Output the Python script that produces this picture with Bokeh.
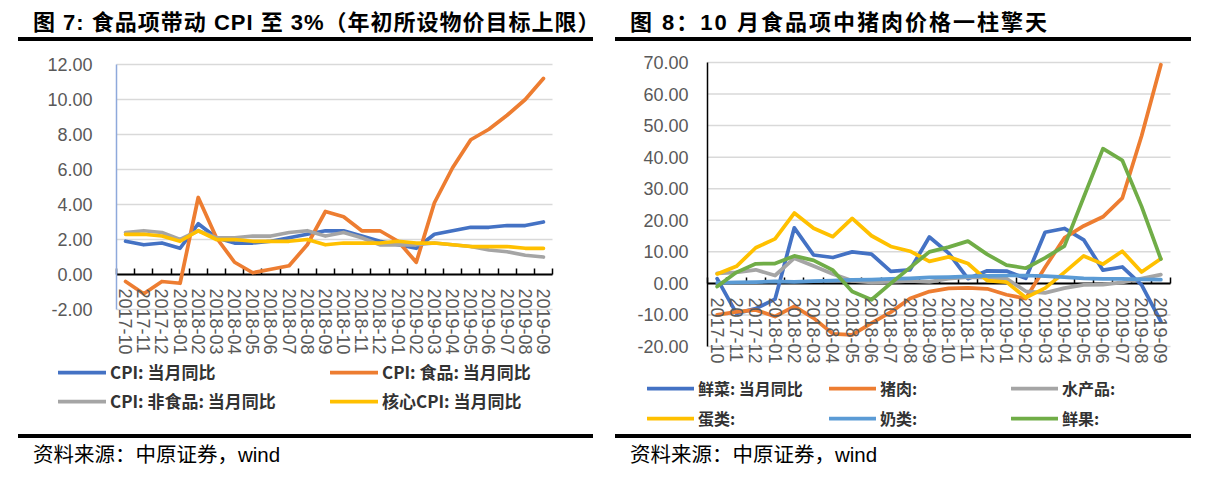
from bokeh.plotting import figure
from bokeh.models import (Legend, LegendItem, FixedTicker, NumeralTickFormatter,
                          Range1d, Div, LinearAxis)
from bokeh.layouts import row, column
from bokeh.embed import file_html
from bokeh.resources import INLINE

# ---------------- data ----------------
months = ["2017-10", "2017-11", "2017-12", "2018-01", "2018-02", "2018-03",
          "2018-04", "2018-05", "2018-06", "2018-07", "2018-08", "2018-09",
          "2018-10", "2018-11", "2018-12", "2019-01", "2019-02", "2019-03",
          "2019-04", "2019-05", "2019-06", "2019-07", "2019-08", "2019-09"]

# Figure 7: CPI
cpi_total = [1.9, 1.7, 1.8, 1.5, 2.9, 2.1, 1.8, 1.8, 1.9, 2.1, 2.3, 2.5,
             2.5, 2.2, 1.9, 1.7, 1.5, 2.3, 2.5, 2.7, 2.7, 2.8, 2.8, 3.0]
cpi_food = [-0.4, -1.1, -0.4, -0.5, 4.4, 2.1, 0.7, 0.1, 0.3, 0.5, 1.7, 3.6,
            3.3, 2.5, 2.5, 1.9, 0.7, 4.1, 6.1, 7.7, 8.3, 9.1, 10.0, 11.2]
cpi_nonfood = [2.4, 2.5, 2.4, 2.0, 2.5, 2.1, 2.1, 2.2, 2.2, 2.4, 2.5, 2.2,
               2.4, 2.1, 1.7, 1.7, 1.7, 1.8, 1.7, 1.6, 1.4, 1.3, 1.1, 1.0]
cpi_core = [2.3, 2.3, 2.2, 1.9, 2.5, 2.0, 2.0, 1.9, 1.9, 1.9, 2.0, 1.7,
            1.8, 1.8, 1.8, 1.9, 1.8, 1.8, 1.7, 1.6, 1.6, 1.6, 1.5, 1.5]
cpi_labels = ["CPI: 当月同比", "CPI: 食品: 当月同比", "CPI: 非食品: 当月同比", "核心CPI: 当月同比"]

# Figure 8: food items
veg = [1.5, -9.5, -8.0, -5.0, 17.6, 9.0, 8.2, 10.0, 9.3, 3.8, 4.3, 14.7,
       9.6, 1.5, 4.0, 3.9, 1.6, 16.2, 17.4, 13.8, 4.2, 5.2, -0.5, -12.0]
pork = [-10.0, -9.0, -8.4, -10.5, -7.3, -11.0, -16.0, -16.3, -12.6, -9.1, -4.8, -2.6,
        -1.6, -1.4, -1.7, -3.6, -4.8, 5.1, 14.4, 18.2, 21.1, 27.0, 46.7, 69.3]
aquatic = [3.2, 3.5, 4.3, 2.5, 8.0, 5.5, 3.0, 0.8, 0.3, 0.5, 0.8, 0.5,
           1.5, 2.0, 1.8, 1.5, -2.5, -3.0, -1.5, -0.5, -0.4, 0.3, 1.5, 2.8]
eggs = [3.0, 5.4, 11.3, 14.1, 22.3, 17.5, 14.8, 20.6, 15.1, 11.7, 10.2, 7.0,
        8.4, 6.3, 0.9, 0.4, -4.5, -1.5, 3.5, 8.7, 6.1, 10.2, 3.6, 7.8]
milk = [0.2, 0.3, 0.4, 0.6, 0.5, 0.7, 0.9, 1.1, 1.2, 1.4, 1.6, 1.9,
        2.0, 2.2, 2.4, 2.5, 2.5, 2.3, 2.0, 1.6, 1.4, 1.4, 1.3, 1.2]
fruit = [-1.0, 3.5, 6.2, 6.3, 8.7, 7.3, 4.2, -2.6, -5.2, 0.0, 5.0, 10.0,
         11.5, 13.4, 9.2, 5.8, 4.8, 8.1, 11.8, 27.3, 42.7, 39.0, 24.4, 7.7]
food_labels = ["鲜菜: 当月同比", "猪肉:", "水产品:", "蛋类:", "奶类:", "鲜果:"]

title7 = "图 7: 食品项带动 CPI 至 3%（年初所设物价目标上限）"
title8 = "图 8：10 月食品项中猪肉价格一柱擎天"
source_text = "资料来源：中原证券，wind"

C_BLUE, C_ORANGE, C_GRAY, C_YELLOW, C_LBLUE, C_GREEN = (
    "#4472C4", "#ED7D31", "#A5A5A5", "#FFC000", "#5B9BD5", "#70AD47")

FONT_TXT = "'Liberation Sans','Noto Sans CJK SC',sans-serif"
FIG_H = 392


def make_fig(series, colors, labels, ymin, ymax, ystep, fig_w,
             plot_l, plot_r, plot_t, plot_b, yaxis_color, ystandoff,
             legend_loc, ncols, glyph_w, label_w, spacing, legend_fs):
    """plot_l/r/t/b: pixel box (inside the figure) of the category/value area."""
    n = len(months)
    xs = list(range(n))
    cw = (plot_r - plot_l) / n                 # pixels per category
    vs = (plot_b - plot_t) / (ymax - ymin)     # pixels per value unit
    x_rng = Range1d(-0.5 - plot_l / cw, n - 0.5 + (fig_w - plot_r) / cw)
    y_rng = Range1d(ymin - (FIG_H - plot_b) / vs, ymax + plot_t / vs)

    p = figure(width=fig_w, height=FIG_H, x_range=x_rng, y_range=y_rng,
               output_backend="svg", toolbar_location=None,
               min_border=0, min_border_left=0, min_border_right=0,
               min_border_top=0, min_border_bottom=0)
    p.outline_line_color = None
    p.background_fill_color = "white"
    p.border_fill_color = "white"
    p.xgrid.visible = False
    p.ygrid.visible = False

    yticks = list(range(ymin, ymax + 1, ystep))
    # horizontal gridlines limited to the category area
    p.segment(x0=[-0.5] * len(yticks), x1=[n - 0.5] * len(yticks),
              y0=yticks, y1=yticks, line_color="#D9D9D9", line_width=1.5,
              level="underlay")

    ya = p.yaxis[0]
    ya.fixed_location = -0.5
    ya.bounds = (ymin, ymax)
    ya.ticker = FixedTicker(ticks=yticks)
    ya.formatter = NumeralTickFormatter(format="0.00")
    ya.axis_line_color = yaxis_color
    ya.axis_line_width = 1.5
    ya.major_tick_line_color = None
    ya.minor_tick_line_color = None
    ya.major_tick_out = 0
    ya.major_tick_in = 0
    ya.major_label_standoff = ystandoff
    ya.major_label_text_font = "Liberation Sans"
    ya.major_label_text_font_size = "18px"
    ya.major_label_text_color = "#595959"

    # zero line with tick marks between categories (beneath the series)
    zero = LinearAxis(fixed_location=0, bounds=(-0.5, n - 0.5),
                      ticker=FixedTicker(ticks=xs, minor_ticks=[i - 0.5 for i in range(n + 1)]),
                      major_label_text_color=None, major_tick_line_color=None,
                      major_tick_in=0, major_tick_out=0,
                      minor_tick_in=6, minor_tick_out=0,
                      minor_tick_line_color="black", minor_tick_line_width=1.5,
                      axis_line_color="black", axis_line_width=2, level="underlay")
    p.add_layout(zero, "below")

    # category labels under the zero line
    xa = p.xaxis[0]
    xa.fixed_location = 0
    xa.ticker = FixedTicker(ticks=xs)
    xa.major_label_overrides = {i: m for i, m in enumerate(months)}
    xa.major_label_orientation = "vertical"
    xa.axis_line_color = None
    xa.major_tick_line_color = None
    xa.minor_tick_line_color = None
    xa.major_tick_out = 0
    xa.major_tick_in = 0
    xa.major_label_standoff = 14
    xa.major_label_text_font = "Liberation Sans"
    xa.major_label_text_font_size = "18px"
    xa.major_label_text_color = "#595959"

    items = []
    for ys, c, lab in zip(series, colors, labels):
        r = p.line(xs, ys, line_color=c, line_width=3.75,
                   line_join="round", line_cap="round")
        items.append(LegendItem(label=lab, renderers=[r]))

    leg = Legend(items=items, location=legend_loc, orientation="horizontal",
                 ncols=ncols, glyph_width=glyph_w, glyph_height=20,
                 label_width=label_w, label_height=20, label_standoff=4,
                 spacing=spacing, padding=0, margin=0,
                 border_line_color=None, background_fill_alpha=0,
                 label_text_font="Noto Sans CJK SC", label_text_font_size=legend_fs,
                 label_text_font_style="bold", label_text_color="#333333")
    p.add_layout(leg)
    return p


def title_div(text, width, ml, lw, ls):
    html = (f'<div style="box-sizing:border-box;margin-left:{ml}px;width:{lw}px;'
            f'height:33px;line-height:29px;border-bottom:4px solid #000;'
            f'padding-left:15px;white-space:nowrap;color:#000;'
            f'font-family:{FONT_TXT};font-weight:bold;font-size:22px;'
            f'letter-spacing:{ls}px;">{text}</div>')
    return Div(text=html, width=width, height=34, margin=0)


def source_div(text, width, ml, lw):
    html = (f'<div style="box-sizing:border-box;margin-left:{ml}px;width:{lw}px;'
            f'height:34px;border-top:4px solid #000;padding-top:4px;'
            f'line-height:26px;padding-left:15px;white-space:nowrap;color:#000;'
            f'font-family:{FONT_TXT};font-size:20.5px;">{text}</div>')
    return Div(text=html, width=width, height=34, margin=0)


# left figure occupies page x 8..608, y 42..434
p7 = make_fig([cpi_total, cpi_food, cpi_nonfood, cpi_core],
              [C_BLUE, C_ORANGE, C_GRAY, C_YELLOW], cpi_labels,
              -2, 12, 2, 600, 108, 544, 22, 267, "#8EA9DB", 24,
              (50, 21), 2, 48, 216, 4, "17px")

# right figure occupies page x 608..1198, y 42..434
p8 = make_fig([veg, pork, aquatic, eggs, milk, fruit],
              [C_BLUE, C_ORANGE, C_GRAY, C_YELLOW, C_LBLUE, C_GREEN], food_labels,
              -20, 70, 10, 590, 99, 562, 20, 304, "black", 19,
              (39, 4), 3, 47, 125, 6, "16px")

left = column(title_div(title7, 600, 10, 575, 1.0), p7,
              source_div(source_text, 600, 10, 575), spacing=0)
right = column(title_div(title8, 590, 7, 576, 2), p8,
               source_div(source_text, 590, 7, 576), spacing=0)
layout = row(left, right, spacing=0, margin=(8, 0, 0, 8))

open("out.html", "w").write(file_html(layout, INLINE))
